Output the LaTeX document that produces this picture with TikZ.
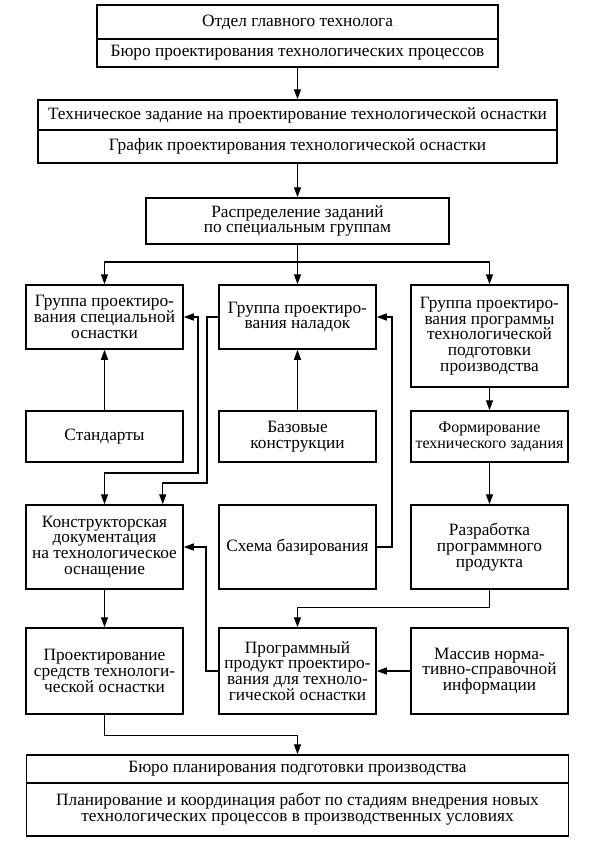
\documentclass[tikz,border=0pt]{standalone}
\usepackage{fontspec}
\setmainfont{Liberation Serif}
\usetikzlibrary{arrows.meta,calc}
\begin{document}
\begin{tikzpicture}[x=1pt,y=-1pt,
  box/.style={draw, line width=1.5pt, align=center, inner sep=0pt,
    font=\fontsize{17.3}{15.8}\selectfont},
  colbox/.style={box, minimum width=157pt},
  arr/.style={line width=1.3pt, -{Triangle[length=10pt,width=7pt]}},
  arrboth/.style={line width=1.3pt, {Triangle[length=10pt,width=7pt]}-{Triangle[length=10pt,width=7pt]}},
  plainline/.style={line width=1.3pt}]
\useasboundingbox (0,0) rectangle (589,852);
% top blocks
\node[box, minimum width=401pt, minimum height=34pt] (top1) at (297.5,22) {Отдел главного технолога};
\node[box, minimum width=401pt, minimum height=28pt] (top2) at (297.5,53) {Бюро проектирования технологических процессов};
\node[box, minimum width=519pt, minimum height=30pt] (tz1) at (297.5,115) {Техническое задание на проектирование технологической оснастки};
\node[box, minimum width=519pt, minimum height=33pt] (tz2) at (297.5,146.5) {График проектирования технологической оснастки};
\node[box, minimum width=303pt, minimum height=46pt] (dist) at (297.5,221) {Распределение заданий\\по специальным группам};
% row 1
\node[colbox, minimum height=64pt] (A) at (104.5,317) {Группа проектиро-\\вания специальной\\оснастки};
\node[colbox, minimum height=64pt] (B) at (297.5,317) {Группа проектиро-\\вания наладок};
\node[colbox, minimum height=102pt] (C) at (489.5,336) {Группа проектиро-\\вания программы\\технологической\\подготовки\\производства};
% row 2
\node[colbox, minimum height=51pt] (Std) at (104.5,436.5) {Стандарты};
\node[colbox, minimum height=51pt] (Bas) at (297.5,436.5) {Базовые\\конструкции};
\node[colbox, minimum height=51pt, font=\fontsize{16}{15.8}\selectfont] (Form) at (489.5,436.5) {Формирование\\технического задания};
% row 3
\node[colbox, minimum height=84pt] (Kon) at (104.5,547) {Конструкторская\\документация\\на технологическое\\оснащение};
\node[colbox, minimum height=84pt] (Sch) at (297.5,547) {Схема базирования};
\node[colbox, minimum height=84pt] (Raz) at (489.5,547) {Разработка\\программного\\продукта};
% row 4
\node[colbox, minimum height=86pt] (Pro) at (104.5,671) {Проектирование\\средств технологи-\\ческой оснастки};
\node[colbox, minimum height=86pt] (Prg) at (297.5,671) {Программный\\продукт проектиро-\\вания для техноло-\\гической оснастки};
\node[colbox, minimum height=86pt] (Mas) at (489.5,671) {Массив норма-\\тивно-справочной\\информации};
% bottom
\node[box, minimum width=542pt, minimum height=28pt] (bp1) at (297.5,769) {Бюро планирования подготовки производства};
\node[box, minimum width=542pt, minimum height=53pt] (bp2) at (297.5,809.5) {Планирование и координация работ по стадиям внедрения новых\\технологических процессов в производственных условиях};
% connectors
\draw[arr] (top2.south) -- (tz1.north);
\draw[arr] (tz2.south) -- (dist.north);
\coordinate (j) at (297.5,262);
\draw[plainline] (dist.south) -- (j);
\draw[arr] (j) -| (A.north);
\draw[arr] (j) -| (C.north);
\draw[arr] (j) -- (B.north);
\draw[arr] (Std.north) -- (A.south);
\draw[arr] (Bas.north) -- (B.south);
\draw[arr] (C.south) -- (Form.north);
\draw[arr] (Form.south) -- (Raz.north);
\draw[arrboth] (A.east) -| (198,473) -| (Kon.north);
\draw[arr] (B.west) -| (207,483) -| ($(Kon.north east)+(-21,0)$);
\draw[arr] (Sch.east) -| (392,317) -- (B.east);
\draw[arr] (Prg.west) -| (206,547) -- (Kon.east);
\draw[arr] (Raz.south) -- ++(0,18) -| (Prg.north);
\draw[arr] (Mas.west) -- (Prg.east);
\draw[arr] (Kon.south) -- (Pro.north);
\draw[arr] (Pro.south) -- ++(0,21) -| (bp1.north);
\end{tikzpicture}
\end{document}
